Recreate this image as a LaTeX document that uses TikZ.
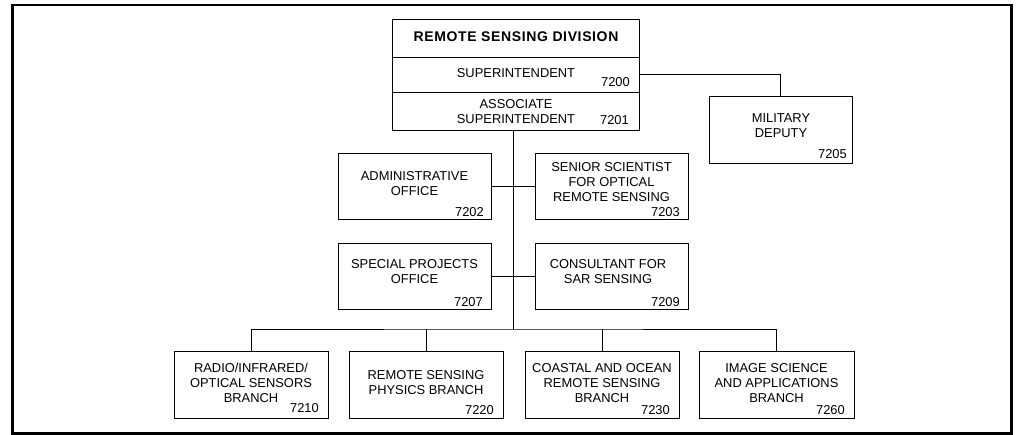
\documentclass[tikz,border=0pt]{standalone}
\usepackage{fontspec}
\setmainfont{Liberation Sans}
\begin{document}
\begin{tikzpicture}[x=1pt,y=-1pt,
  box/.style={draw, line width=0.9pt, inner sep=0pt},
  txt/.style={inner sep=0pt, align=center, font=\fontsize{12.9}{15}\selectfont},
  ttl/.style={inner sep=0pt, font=\fontsize{14}{16}\selectfont\bfseries\addfontfeature{LetterSpace=4.5}},
  num/.style={anchor=base east, inner sep=0pt, font=\fontsize{12.9}{15}\selectfont},
  conn/.style={line width=0.9pt}]
\useasboundingbox (0,0) rectangle (1018,435);
\draw[line width=2.5pt] (12.5,5) rectangle (1011.5,433.5);

% top stacked box
\node[box, minimum width=247pt, minimum height=38pt] (div) at (515.5,38) {};
\node[box, minimum width=247pt, minimum height=35pt] (sup) at (515.5,74.5) {};
\node[box, minimum width=247pt, minimum height=38pt] (asc) at (515.5,111) {};
\node[ttl] (divt) at (516,37) {REMOTE SENSING DIVISION};
\node[txt] (supt) at (516,73) {SUPERINTENDENT};
\node[num] (supn) at (630,86.6) {7200};
\node[txt] (asct) at (516,111.5) {ASSOCIATE\\SUPERINTENDENT};
\node[num] (ascn) at (629,124.6) {7201};

% military deputy
\node[box, minimum width=143pt, minimum height=67pt] (mil) at (780.8,129.5) {};
\node[txt] (milt) at (781,125.5) {MILITARY\\DEPUTY};
\node[num] (miln) at (847,158.6) {7205};

% staff offices
\node[box, minimum width=153pt, minimum height=66pt] (adm) at (414.5,186) {};
\node[txt] (admt) at (414.5,183.5) {ADMINISTRATIVE\\OFFICE};
\node[num] (admn) at (484,216.8) {7202};

\node[box, minimum width=153pt, minimum height=66pt] (sen) at (611.5,186) {};
\node[txt] (sent) at (611.5,182.5) {SENIOR SCIENTIST\\FOR OPTICAL\\REMOTE SENSING};
\node[num] (senn) at (680,216.3) {7203};

\node[box, minimum width=153pt, minimum height=66pt] (spo) at (414.5,276) {};
\node[txt] (spot) at (414.5,271.5) {SPECIAL PROJECTS\\OFFICE};
\node[num] (spon) at (483,306.3) {7207};

\node[box, minimum width=153pt, minimum height=66pt] (con) at (611.5,276) {};
\node[txt] (cont) at (608,271.5) {CONSULTANT FOR\\SAR SENSING};
\node[num] (conn) at (680,306.3) {7209};

% branches
\node[box, minimum width=154pt, minimum height=67pt] (b1) at (251,384.5) {};
\node[txt] (b1t) at (251,383) {RADIO/INFRARED/\\OPTICAL SENSORS\\BRANCH};
\node[num] (b1n) at (319,412.6) {7210};

\node[box, minimum width=154pt, minimum height=67pt] (b2) at (426,384.5) {};
\node[txt] (b2t) at (426,383) {REMOTE SENSING\\PHYSICS BRANCH};
\node[num] (b2n) at (494,414.6) {7220};

\node[box, minimum width=154pt, minimum height=67pt] (b3) at (602,384.5) {};
\node[txt] (b3t) at (602,383.3) {COASTAL AND OCEAN\\REMOTE SENSING\\BRANCH};
\node[num] (b3n) at (670,414.6) {7230};

\node[box, minimum width=155pt, minimum height=67pt] (b4) at (776.5,384.5) {};
\node[txt] (b4t) at (776.5,383.3) {IMAGE SCIENCE\\AND APPLICATIONS\\BRANCH};
\node[num] (b4n) at (845,414.6) {7260};

% connectors
\coordinate (bus) at (513,329);
\draw[conn] (asc.south -| bus) -- (bus);
\draw[conn] (sup.east) -| (mil.north);
\draw[conn] (adm.east) -- (sen.west);
\draw[conn] (spo.east) -- (con.west);
\draw[conn] (b1.north) |- (bus) -| (b4.north);
\draw[conn] (b2.north) -- (b2.north |- bus);
\draw[conn] (b3.north) -- (b3.north |- bus);
\end{tikzpicture}
\end{document}
